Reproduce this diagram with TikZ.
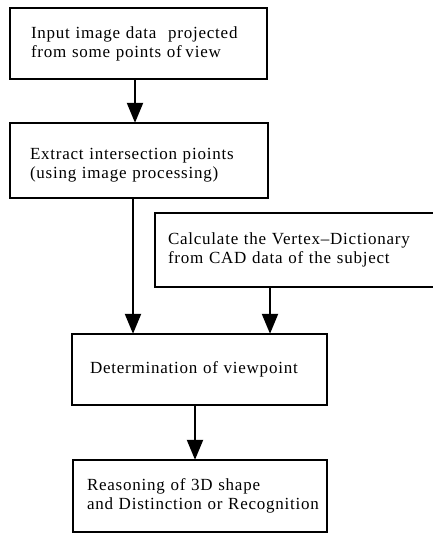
\documentclass[tikz,border=0pt]{standalone}
\usepackage{fontspec}
\setmainfont{Liberation Serif}[LetterSpace=4.5]
\usetikzlibrary{arrows.meta}
\begin{document}
\begin{tikzpicture}[x=1pt,y=-1pt,
  box/.style={draw=black, line width=1.4pt, fill=white, rectangle, inner xsep=0pt, inner ysep=0pt,
    align=left, font=\fontsize{17}{19}\selectfont},
  arr/.style={line width=2.2pt, -{Triangle[length=20pt,width=16pt]}, shorten >=-0.5pt}]
\useasboundingbox (0,0) rectangle (432,533);
\node[box, minimum width=257, minimum height=71, text width=215] (b1) at (138.5,43.5)
  {\mbox{Input image data\hspace{6pt} projected}\\\mbox{from some points of\hspace{-2pt} view}};
\node[box, minimum width=258, minimum height=75, text width=218] (b2) at (139,160.5)
  {\mbox{\rule{0pt}{20pt}Extract intersection pioints}\\\mbox{(using image processing)}};
\node[box, minimum width=284, minimum height=74, text width=258] (b3) at (297,250)
  {\mbox{Calculate the Vertex\textendash Dictionary}\\\mbox{from CAD data of the subject}};
\node[box, minimum width=255, minimum height=71, text width=219] (b4) at (199.5,369.5)
  {\mbox{Determination of viewpoint}};
\node[box, minimum width=254, minimum height=72, text width=226] (b5) at (200,496)
  {\mbox{Reasoning of 3D shape}\\\mbox{and Distinction or Recognition}};
\coordinate (xa) at (135,0);
\coordinate (xb) at (133,0);
\coordinate (xc) at (270,0);
\coordinate (xd) at (195,0);
\draw[arr] (b1.south -| xa) -- (b2.north -| xa);
\draw[arr] (b2.south -| xb) -- (b4.north -| xb);
\draw[arr] (b3.south -| xc) -- (b4.north -| xc);
\draw[arr] (b4.south -| xd) -- (b5.north -| xd);
\end{tikzpicture}
\end{document}
